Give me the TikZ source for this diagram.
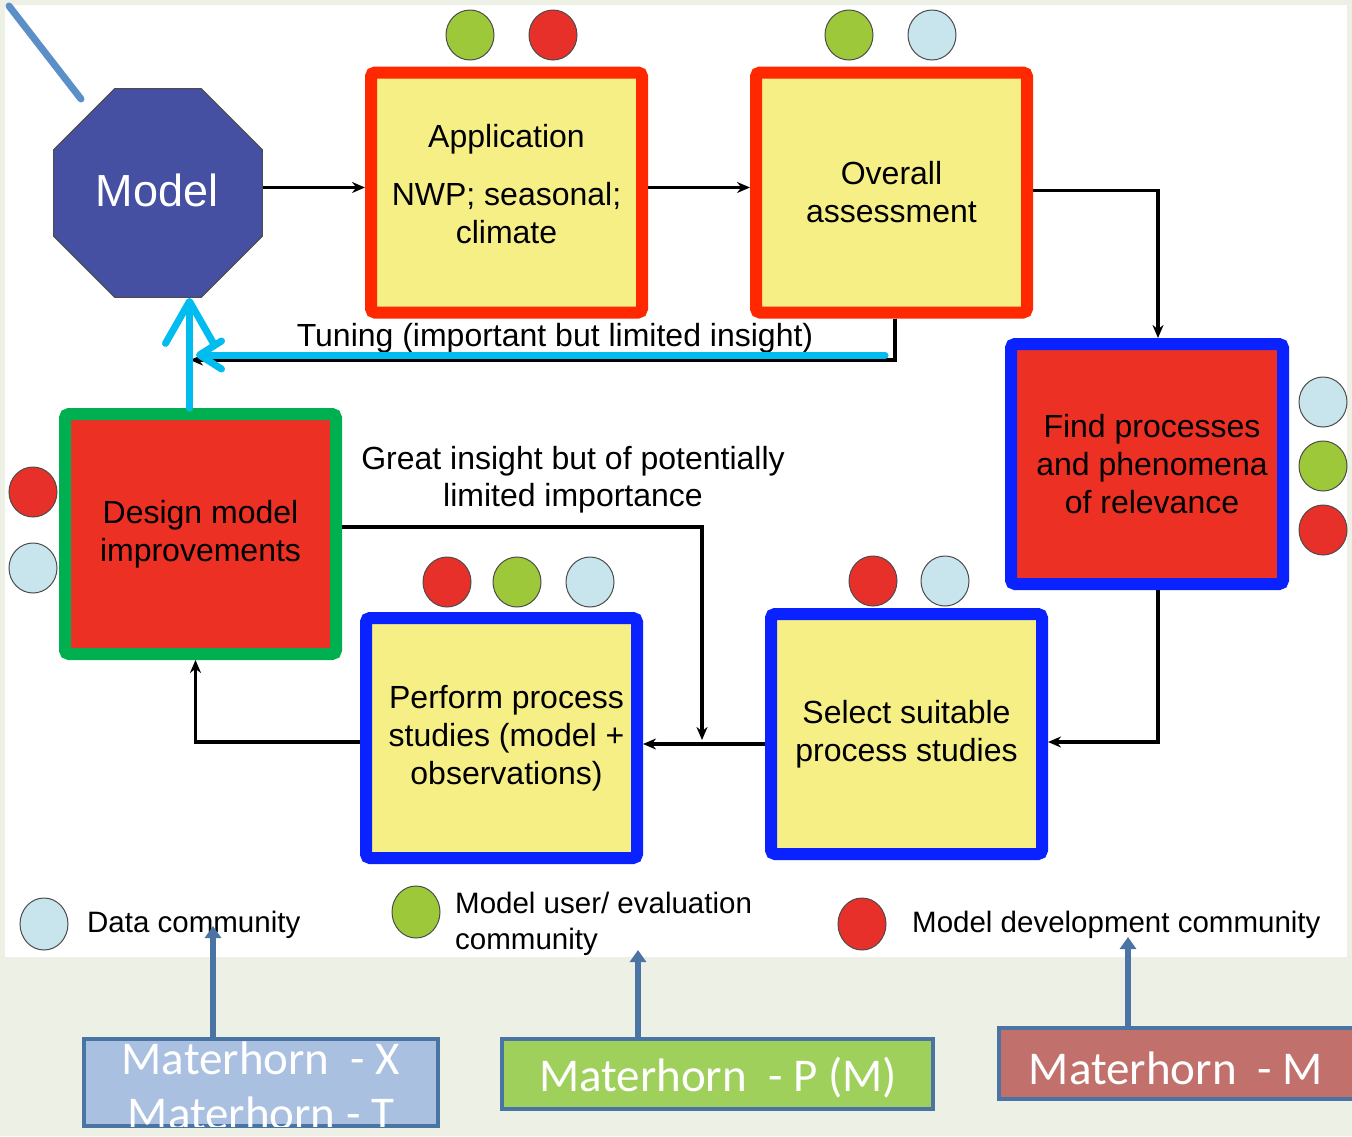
\documentclass[tikz,border=0pt]{standalone}
\usepackage{fontspec}
\setmainfont{Liberation Sans}
\newfontfamily\calf{Carlito}
\usetikzlibrary{shapes.geometric,arrows.meta}
\definecolor{bgc}{HTML}{EDF0E4}
\definecolor{octf}{HTML}{4550A2}
\definecolor{redB}{HTML}{FF2800}
\definecolor{yel}{HTML}{F6EF85}
\definecolor{bluB}{HTML}{0A22FF}
\definecolor{grnB}{HTML}{00B050}
\definecolor{redF}{HTML}{EC3024}
\definecolor{dotR}{HTML}{E8302A}
\definecolor{dotG}{HTML}{9CC83A}
\definecolor{dotB}{HTML}{C8E4EC}
\definecolor{cyanL}{HTML}{00BCEF}
\definecolor{steelL}{HTML}{4A74A4}
\definecolor{steelT}{HTML}{5B8FC8}
\definecolor{mblue}{HTML}{A9C0E0}
\definecolor{mgreen}{HTML}{9FD05C}
\definecolor{mred}{HTML}{C2706B}
\tikzset{
  flowbox/.style={line width=12pt, rounded corners=4pt, minimum width=271pt, minimum height=240pt,
    align=center, inner sep=0pt, font=\fontsize{32}{38}\selectfont},
  ybox/.style={flowbox, fill=yel},
  rfbox/.style={flowbox, fill=redF},
  conn/.style={line width=3.5pt, -{Stealth[length=13pt,width=11pt]}},
  cyanl/.style={line width=7pt, cyanL, line cap=round},
  dot/.style={ellipse, draw=black!70, line width=1pt, minimum width=48pt, minimum height=50pt, inner sep=0pt},
  leg/.style={inner sep=0pt, font=\fontsize{29.5}{36}\selectfont, anchor=west, align=left},
  lbl/.style={inner sep=0pt, font=\fontsize{32}{37}\selectfont, align=center},
  mbox/.style={draw=steelL, line width=4pt, inner sep=0pt},
  mtext/.style={inner sep=0pt, text=white, font=\calf\fontsize{47}{55}\selectfont, align=center},
  steelarrow/.style={draw=steelL, line width=6pt, -{Triangle[length=12pt,width=16pt]}}
}
\begin{document}
\begin{tikzpicture}[x=1pt,y=-1pt]
\useasboundingbox (0,0) rectangle (1352,1136);
\fill[bgc] (0,0) rectangle (1352,1136);
\fill[white] (5,5) rectangle (1347,957);

% top-left steel line
\coordinate (tl1) at (9,6);
\coordinate (tl2) at (81,99);
\draw[steelT, line width=7pt, line cap=round] (tl1) -- (tl2);

% model
\node[regular polygon, regular polygon sides=8, minimum size=226pt, inner sep=0pt,
      fill=octf, draw=black!70, line width=1pt] (model) at (158,193) {};
\node[text=white, font=\fontsize{45}{50}\selectfont, inner sep=0pt] (modeltxt) at (157,190) {Model};

% boxes
\node[ybox, draw=redB] (app) at (506.5,192.5) {Application\\[20pt]NWP; seasonal;\\climate\\[-20pt]\mbox{}};
\node[ybox, draw=redB] (overall) at (891.5,192.5) {Overall\\assessment};
\node[rfbox, draw=bluB, minimum width=272pt] (find) at (1147,464) {\hspace*{10pt}Find processes\\\hspace*{10pt}and phenomena\\\hspace*{10pt}of relevance};
\node[rfbox, draw=grnB] (design) at (200.5,534) {Design model\\improvements};
\node[ybox, draw=bluB] (perform) at (501.5,738) {\hspace*{10pt}Perform process\\\hspace*{10pt}studies (model +\\\hspace*{10pt}observations)};
\node[ybox, draw=bluB] (select) at (906.5,734) {Select suitable\\process studies};

% dots
\node[dot, fill=dotG] (d1) at (470,35) {};
\node[dot, fill=dotR] (d2) at (553,35) {};
\node[dot, fill=dotG] (d3) at (849,35) {};
\node[dot, fill=dotB] (d4) at (932,35) {};
\node[dot, fill=dotB] (d5) at (1323,402) {};
\node[dot, fill=dotG] (d6) at (1323,466) {};
\node[dot, fill=dotR] (d7) at (1323,530) {};
\node[dot, fill=dotR] (d8) at (33,492) {};
\node[dot, fill=dotB] (d9) at (33,568) {};
\node[dot, fill=dotR] (d10) at (447,582) {};
\node[dot, fill=dotG] (d11) at (517,582) {};
\node[dot, fill=dotB] (d12) at (590,582) {};
\node[dot, fill=dotR] (d13) at (873,581) {};
\node[dot, fill=dotB] (d14) at (945,581) {};

% labels
\node[lbl] (tuning) at (555,338) {Tuning (important but limited insight)};
\node[lbl] (great) at (573,480) {Great insight but of potentially\\limited importance};

% connectors
\coordinate (tune) at (190,360);
\coordinate (junc) at (702,740);
\draw[conn] ([yshift=5pt]model.east |- app.west) -- ([yshift=5pt]app.west);
\draw[conn] ([yshift=5pt]app.east) -- ([yshift=5pt]overall.west);
\draw[conn] ([yshift=2pt]overall.east) -| ([xshift=11pt]find.north);
\draw[conn] ([xshift=3.5pt]overall.south) |- (tune);
\draw[conn] ([xshift=11pt]find.south) |- ([yshift=-8pt]select.east);
\draw[conn] ([yshift=-10pt]select.west) -- ([yshift=-10pt]select.west -| perform.east);
\draw[conn] ([yshift=7pt]design.east) -| (junc);
\draw[conn] ([yshift=-4pt]perform.west) -| ([xshift=-5pt]design.south);

% cyan arrows
\coordinate (ct1) at (885,355);
\coordinate (ct2) at (196,355);
\draw[cyanl, -{Straight Barb[length=22pt,width=28pt,round]}] (ct1) -- (ct2);
\draw[cyanl, -{Straight Barb[length=42pt,width=48pt,round]}] ([xshift=-11pt]design.north) -- ([xshift=-11pt]design.north |- model.south);

% legend
\node[dot, fill=dotB, minimum height=52pt] (l1) at (44,924) {};
\node[leg] (lg1) at (87,925) {Data community};
\node[dot, fill=dotG, minimum height=52pt] (l2) at (416,912) {};
\node[leg] (lg2) at (455,924) {Model user/ evaluation\\community};
\node[dot, fill=dotR, minimum height=52pt] (l3) at (862,924) {};
\node[leg] (lg3) at (912,925) {Model development community};

% Materhorn boxes
\node[mbox, fill=mblue, minimum width=354pt, minimum height=87pt] (m1) at (261,1082.5) {};
\begin{scope}
  \clip (84,1039) rectangle (438,1126);
  \node[mtext] (m1t) at (261,1086) {Materhorn~~- X\\Materhorn - T};
\end{scope}
\node[mbox, fill=mgreen, minimum width=431pt, minimum height=70pt] (m2) at (717.5,1074) {};
\node[mtext] (m2t) at (718,1078) {Materhorn~~- P (M)};
\node[mbox, fill=mred, minimum width=355pt, minimum height=71pt] (m3) at (1176.5,1063.5) {};
\node[mtext] (m3t) at (1176,1068) {Materhorn~~- M};

\coordinate (a1) at (213,926);
\coordinate (a2) at (638,950);
\coordinate (a3) at (1128,937);
\draw[steelarrow] ([xshift=-48pt]m1.north) -- (a1);
\draw[steelarrow] ([xshift=-79.5pt]m2.north) -- (a2);
\draw[steelarrow] ([xshift=-48.5pt]m3.north) -- (a3);
\end{tikzpicture}
\end{document}
